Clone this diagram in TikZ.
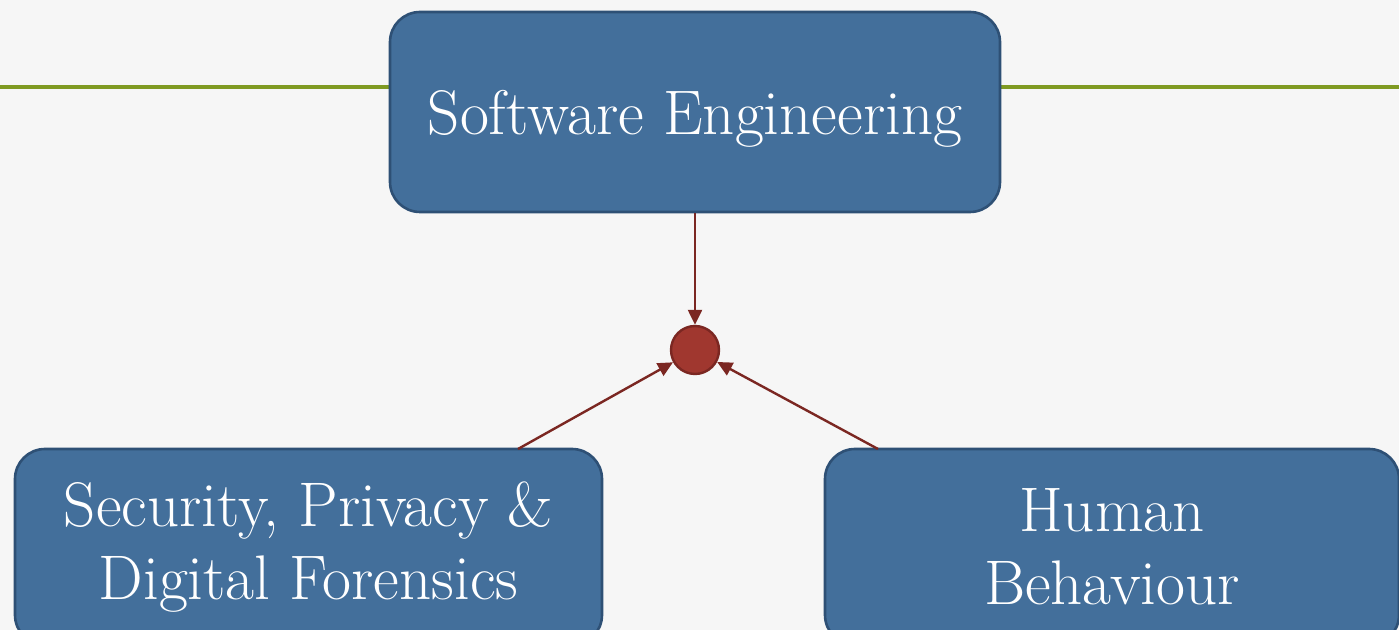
\documentclass[tikz,border=0pt]{standalone}
\usetikzlibrary{arrows.meta}
\definecolor{paper}{HTML}{F6F6F6}
\definecolor{boxfill}{HTML}{436F9B}
\definecolor{boxedge}{HTML}{2E5075}
\definecolor{rule}{HTML}{7F9A22}
\definecolor{linkred}{HTML}{7B2722}
\definecolor{dotred}{HTML}{A0372F}
\tikzset{
  topic/.style={draw=boxedge, fill=boxfill, line width=1.3pt, rounded corners=15pt,
    text=white, align=center, inner sep=0pt,
    font=\fontsize{31.5}{36.5}\selectfont},
  link/.style={draw=linkred, line width=1.2pt, -{Triangle[length=7.5pt,width=7pt]}},
  hub/.style={circle, draw=linkred, fill=dotred, line width=1.2pt, minimum size=24pt, inner sep=0pt},
}
\begin{document}
\begin{tikzpicture}[x=0.5pt,y=-0.5pt]
  \useasboundingbox (0,0) rectangle (1399,630);
  \fill[paper] (0,0) rectangle (1399,630);
  \clip (0,0) rectangle (1399,630);
  % horizontal rule behind the title box
  \draw[rule, line width=1.6pt] (0,87) -- (1399,87);
  % topic boxes
  \node[topic, text depth=0pt, minimum width=305pt, minimum height=100pt] (se) at (695,112) {Software Engineering};
  \node[topic, minimum width=293.5pt, minimum height=98pt] (sec) at (308.5,547) {Security, Privacy \&\\Digital Forensics};
  \node[topic, minimum width=287pt, minimum height=98pt] (hb) at (1112,547) {Human\\Behaviour};
  % meeting point
  \node[hub] (dot) at (695,350) {};
  \coordinate (secout) at (518,449);
  \coordinate (hbout) at (878,449);
  \draw[link] (se.south) -- (dot);
  \draw[link] (secout) -- (dot);
  \draw[link] (hbout) -- (dot);
\end{tikzpicture}
\end{document}
